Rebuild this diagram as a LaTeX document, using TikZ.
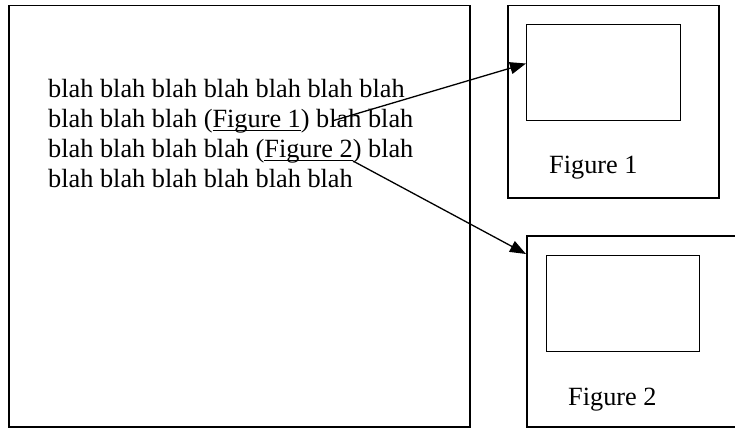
\documentclass[tikz,border=0pt]{standalone}
\usepackage{fontspec}
\setmainfont{Liberation Serif}
\usetikzlibrary{arrows.meta,calc}

% underline with a heavier rule, set a little below the baseline
\newcommand\refmark[1]{\setbox0\hbox{#1}\rlap{\rule[-3.6pt]{\wd0}{1.4pt}}\box0}

\tikzset{
  frame/.style={draw, line width=1.5pt, inner sep=0pt, anchor=north west},
  picbox/.style={draw, line width=1.3pt, inner sep=0pt, anchor=north west},
  bodytext/.style={inner sep=0pt, anchor=base west, font=\fontsize{26.3}{30}\selectfont},
  link/.style={line width=1.3pt, -{Triangle[length=16pt,width=12pt]}},
}

\begin{document}
\begin{tikzpicture}[x=1pt, y=-1pt]
  \useasboundingbox (0,0) rectangle (735,428);
  \clip (0,0) rectangle (735,428);

  % document page
  \node[frame, minimum width=461pt, minimum height=421pt] (page) at (8,5) {};

  % paragraph, one node per line
  \node[bodytext] (line1) at (48,97.5) {blah blah blah blah blah blah blah};
  \node[bodytext] (line2) at (48,127.5) {blah blah blah (\refmark{Figure 1}) blah blah};
  \node[bodytext] (line3) at (48,157.5) {blah blah blah blah (\refmark{Figure 2}) blah};
  \node[bodytext] (line4) at (48,187.5) {blah blah blah blah blah blah};

  % first figure
  \node[frame, minimum width=211pt, minimum height=192pt] (fig1) at (507,5) {};
  \node[picbox, minimum width=154pt, minimum height=96pt] (fig1img) at (526,24) {};
  \node[bodytext] (fig1cap) at (549,173) {Figure 1};

  % second figure (runs past the right edge)
  \node[frame, minimum width=230pt, minimum height=191pt] (fig2) at (526,235) {};
  \node[picbox, minimum width=153pt, minimum height=96pt] (fig2img) at (546,255) {};
  \node[bodytext] (fig2cap) at (568,405) {Figure 2};

  % thinner middle stretch of the lower edges
  \draw[white, line width=1.8pt] ($(fig1.south west)+(19,0)$) -- ($(fig1.south west)+(155,0)$);
  \draw[line width=0.9pt] ($(fig1.south west)+(19,0)$) -- ($(fig1.south west)+(155,0)$);
  \draw[white, line width=1.8pt] ($(fig2.south west)+(20,0)$) -- ($(fig2.south west)+(155,0)$);
  \draw[line width=0.9pt] ($(fig2.south west)+(20,0)$) -- ($(fig2.south west)+(155,0)$);

  % references
  \coordinate (ref1) at (332,121);
  \coordinate (ref2) at (353,161);
  \draw[link] (ref1) -- ($(fig1img.north west)!0.406!(fig1img.south west)$);
  \draw[link] (ref2) -- ($(fig2.north west)+(0,19)$);
\end{tikzpicture}
\end{document}
